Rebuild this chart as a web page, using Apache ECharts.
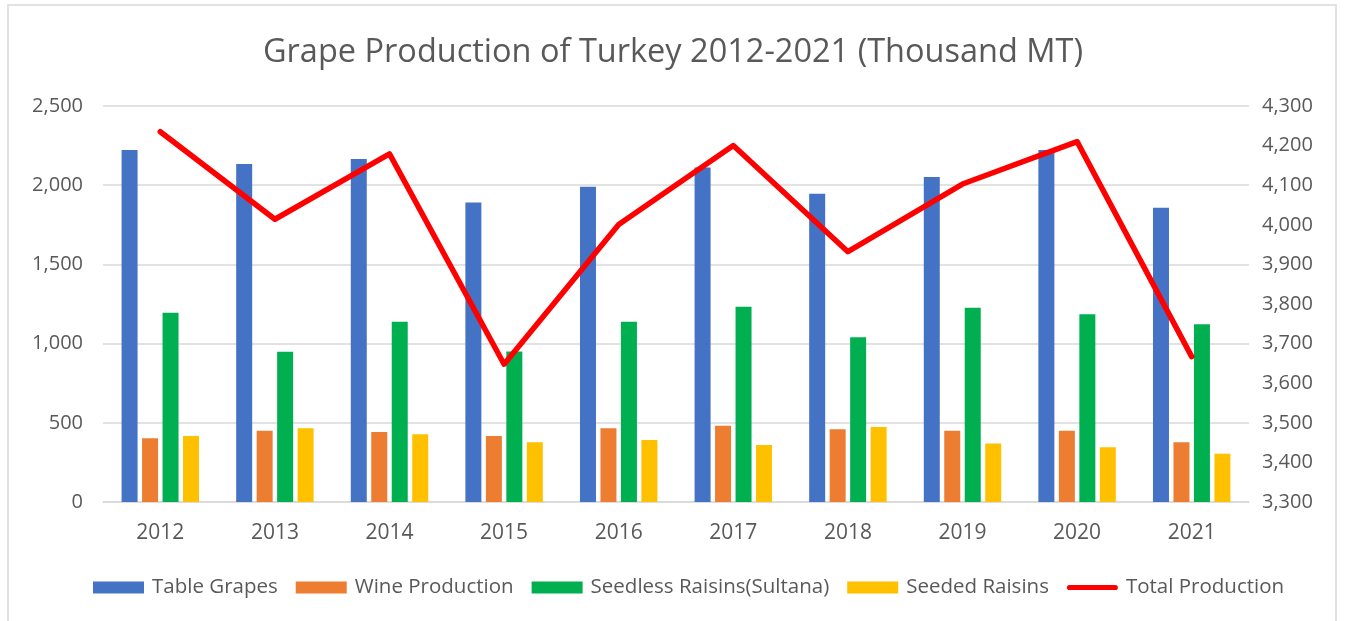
<!DOCTYPE html>
<html>
<head>
<meta charset="utf-8">
<title>Grape Production of Turkey</title>
<script src="https://cdn.jsdelivr.net/npm/echarts@6/dist/echarts.min.js"></script>
<style>
    html, body { margin: 0; padding: 0; background: #ffffff; }
    #chart { width: 1346px; height: 621px; }
</style>
</head>
<body>
<div id="chart"></div>
<script>
    // data (thousand MT)
    var years = ['2012', '2013', '2014', '2015', '2016', '2017', '2018', '2019', '2020', '2021'];
    var tableGrapes = [2222, 2134, 2165, 1890, 1991, 2111, 1946, 2052, 2222, 1858];
    var wineProduction = [402, 450, 442, 417, 465, 482, 459, 450, 450, 377];
    var seedlessRaisins = [1195, 949, 1138, 950, 1138, 1233, 1040, 1227, 1185, 1122];
    var seededRaisins = [417, 465, 427, 377, 391, 360, 473, 370, 345, 305];
    var totalProduction = [4235, 4014, 4179, 3648, 4001, 4200, 3932, 4103, 4210, 3667];

    var textColor = '#595959';
    var font = 'Open Sans';
    // thin rounded bar used as the legend mark of the line
    var lineIcon = 'path://M5,0 L95,0 A5,5 0 0 1 95,10 L5,10 A5,5 0 0 1 5,0 Z';

    function fmt(v) {
        return Number(v).toLocaleString('en-US');
    }

    function barSeries(name, data, color) {
        return {
            name: name,
            type: 'bar',
            data: data,
            barWidth: 16,
            barGap: '28%',
            itemStyle: { color: color },
            emphasis: { disabled: true }
        };
    }

    var chart = echarts.init(document.getElementById('chart'), null, { renderer: 'canvas' });

    var option = {
        backgroundColor: '#ffffff',
        animation: false,
        textStyle: { fontFamily: font, color: textColor },
        graphic: [{
            // chart frame
            type: 'rect',
            shape: { x: 8, y: 5, width: 1328, height: 640 },
            style: { fill: 'none', stroke: '#d9d9d9', lineWidth: 1.5 },
            z: -1
        }],
        title: {
            text: 'Grape Production of Turkey 2012-2021 (Thousand MT)',
            left: 'center',
            top: 31,
            textStyle: {
                fontFamily: font,
                fontSize: 32.5,
                fontWeight: 'normal',
                color: textColor
            }
        },
        legend: {
            bottom: 18,
            left: 88,
            itemWidth: 51,
            itemHeight: 12,
            itemGap: 18,
            textStyle: { fontFamily: font, fontSize: 20.5, color: textColor, padding: [0, 0, 0, 3] },
            data: [
                { name: 'Table Grapes', icon: 'rect' },
                { name: 'Wine Production', icon: 'rect' },
                { name: 'Seedless Raisins(Sultana)', icon: 'rect' },
                { name: 'Seeded Raisins', icon: 'rect' },
                { name: 'Total Production', icon: lineIcon }
            ]
        },
        grid: {
            left: 103,
            right: 97,
            top: 106,
            bottom: 119,
            containLabel: false
        },
        xAxis: {
            type: 'category',
            data: years,
            axisLine: { lineStyle: { color: '#d9d9d9', width: 1.5 } },
            axisTick: { show: false },
            axisLabel: { fontFamily: font, fontSize: 21, color: textColor, margin: 21 }
        },
        yAxis: [{
            type: 'value',
            min: 0,
            max: 2500,
            interval: 500,
            axisLine: { show: false },
            axisTick: { show: false },
            splitLine: { lineStyle: { color: '#d9d9d9', width: 1.5 } },
            axisLabel: { fontFamily: font, fontSize: 20, color: textColor, margin: 20, formatter: fmt }
        }, {
            type: 'value',
            min: 3300,
            max: 4300,
            interval: 100,
            axisLine: { show: false },
            axisTick: { show: false },
            splitLine: { show: false },
            axisLabel: { fontFamily: font, fontSize: 20, color: textColor, margin: 13, formatter: fmt }
        }],
        series: [
            barSeries('Table Grapes', tableGrapes, '#4472C4'),
            barSeries('Wine Production', wineProduction, '#ED7D31'),
            barSeries('Seedless Raisins(Sultana)', seedlessRaisins, '#00B050'),
            barSeries('Seeded Raisins', seededRaisins, '#FFC000'),
            {
                name: 'Total Production',
                type: 'line',
                yAxisIndex: 1,
                data: totalProduction,
                symbol: 'none',
                itemStyle: { color: '#FF0000' },
                lineStyle: { color: '#FF0000', width: 5.5, join: 'round', cap: 'round' },
                emphasis: { disabled: true },
                z: 5
            }
        ]
    };

    chart.setOption(option);
</script>
</body>
</html>
